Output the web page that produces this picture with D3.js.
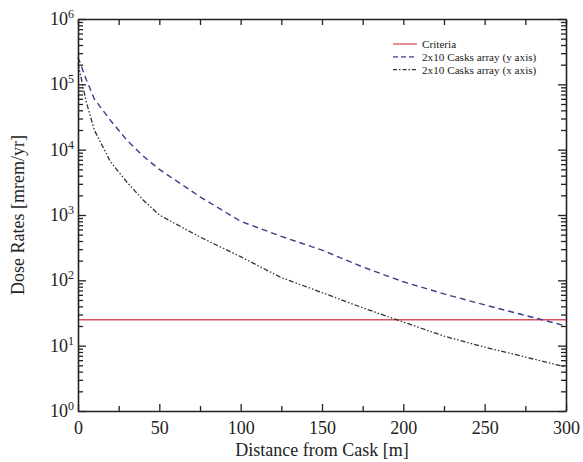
<!DOCTYPE html>
<html>
<head>
<meta charset="utf-8">
<script src="https://cdn.jsdelivr.net/npm/d3@7"></script>
<style>
  body { margin: 0; background: #fff; }
  svg text { font-family: "Liberation Serif", "Times New Roman", serif; fill: #222; }
</style>
</head>
<body>
<div class="viz"></div>
<script>
// distances [m] and dose rates
const distances = [0, 5, 10, 20, 30, 40, 50, 75, 100, 125, 150, 175, 200, 225, 250, 275, 300];
const yAxisArray = [260000, 120000, 60000, 28000, 14000, 8000, 5000, 1900, 800, 470, 290, 160, 95, 62, 42, 29, 20];
const xAxisArray = [210000, 55000, 20000, 6500, 3200, 1700, 1000, 460, 230, 110, 65, 38, 23, 14, 9.5, 6.7, 4.7];
const criteria = 25;
const xTicks = [0, 50, 100, 150, 200, 250, 300];
const yDecades = [0, 1, 2, 3, 4, 5, 6];
const legendLabels = ["Criteria", "2x10 Casks array (y axis)", "2x10 Casks array (x axis)"];

const width = 583, height = 462;
const margin = { top: 19, right: 17, bottom: 51, left: 78 };

const svg = d3.select(".viz").append("svg")
  .attr("width", width)
  .attr("height", height);

const x = d3.scaleLinear().domain([0, 300]).range([margin.left, width - margin.right]);
const y = d3.scaleLog().domain([1, 1e6]).range([height - margin.bottom, margin.top]);

const plot = svg.append("g");

// minor tick values for log axis
const minorY = [];
for (let e = 0; e < 6; e++) {
  for (let k = 2; k <= 9; k++) minorY.push(k * Math.pow(10, e));
}
const minorX = d3.range(25, 300, 50);

function styleAxis(g) {
  g.select(".domain").attr("stroke", "#222").attr("stroke-width", 1.6);
  g.selectAll(".tick line").attr("stroke", "#222").attr("stroke-width", 1.3);
}

// bottom axis
svg.append("g")
  .attr("transform", `translate(0,${height - margin.bottom})`)
  .call(d3.axisBottom(x).tickValues(xTicks).tickSizeInner(-7).tickSizeOuter(0).tickPadding(10))
  .call(styleAxis)
  .call(g => g.selectAll("text").attr("font-size", 18).attr("fill", "#222"));
svg.append("g")
  .attr("transform", `translate(0,${height - margin.bottom})`)
  .call(d3.axisBottom(x).tickValues(minorX).tickSize(-5).tickFormat(""))
  .call(styleAxis)
  .call(g => g.select(".domain").remove());

// top axis
svg.append("g")
  .attr("transform", `translate(0,${margin.top})`)
  .call(d3.axisTop(x).tickValues(d3.range(0, 301, 25)).tickSize(-6).tickSizeOuter(0).tickFormat(""))
  .call(styleAxis);

// left axis
svg.append("g")
  .attr("transform", `translate(${margin.left},0)`)
  .call(d3.axisLeft(y).tickValues(yDecades.map(d => Math.pow(10, d))).tickSizeInner(-8).tickSizeOuter(0).tickFormat(""))
  .call(styleAxis);
svg.append("g")
  .attr("transform", `translate(${margin.left},0)`)
  .call(d3.axisLeft(y).tickValues(minorY).tickSize(-5).tickFormat(""))
  .call(styleAxis)
  .call(g => g.select(".domain").remove());

// right axis
svg.append("g")
  .attr("transform", `translate(${width - margin.right},0)`)
  .call(d3.axisRight(y).tickValues(yDecades.map(d => Math.pow(10, d))).tickSizeInner(-8).tickSizeOuter(0).tickFormat(""))
  .call(styleAxis);
svg.append("g")
  .attr("transform", `translate(${width - margin.right},0)`)
  .call(d3.axisRight(y).tickValues(minorY).tickSize(-5).tickFormat(""))
  .call(styleAxis)
  .call(g => g.select(".domain").remove());

// y tick labels 10^n
const yLabels = svg.append("g").selectAll("text")
  .data(yDecades)
  .join("text")
  .attr("x", margin.left - 4)
  .attr("y", d => y(Math.pow(10, d)) + 6)
  .attr("text-anchor", "end")
  .attr("font-size", 18);
yLabels.append("tspan").text("10");
yLabels.append("tspan").attr("dy", -7).attr("font-size", 12).text(d => d);

// criteria line
plot.append("line")
  .attr("x1", x(0)).attr("x2", x(300))
  .attr("y1", y(criteria)).attr("y2", y(criteria))
  .attr("stroke", "#d9535b").attr("stroke-width", 1.5);

const line = d3.line().x((d, i) => x(distances[i])).y(d => y(d));

plot.append("path")
  .datum(yAxisArray)
  .attr("d", line)
  .attr("fill", "none")
  .attr("stroke", "#3d3d8c")
  .attr("stroke-width", 1.4)
  .attr("stroke-dasharray", "6,4");

plot.append("path")
  .datum(xAxisArray)
  .attr("d", line)
  .attr("fill", "none")
  .attr("stroke", "#333")
  .attr("stroke-width", 1.3)
  .attr("stroke-dasharray", "5,2,1.5,2,1.5,2");

// axis titles
svg.append("text")
  .attr("x", x(150))
  .attr("y", 456)
  .attr("text-anchor", "middle")
  .attr("font-size", 18)
  .text("Distance from Cask [m]");

svg.append("text")
  .attr("transform", `translate(24,${(margin.top + height - margin.bottom) / 2}) rotate(-90)`)
  .attr("text-anchor", "middle")
  .attr("font-size", 18)
  .text("Dose Rates [mrem/yr]");

// legend
const legendStyles = [
  { stroke: "#d9535b", dash: null },
  { stroke: "#3d3d8c", dash: "5,3" },
  { stroke: "#333", dash: "4,2,1.5,2" }
];
const legend = svg.append("g").selectAll("g")
  .data(legendLabels)
  .join("g")
  .attr("transform", (d, i) => `translate(393,${44 + i * 12.8})`);
legend.append("line")
  .attr("x1", 0).attr("x2", 24)
  .attr("stroke", (d, i) => legendStyles[i].stroke)
  .attr("stroke-width", 1.3)
  .attr("stroke-dasharray", (d, i) => legendStyles[i].dash);
legend.append("text")
  .attr("x", 29)
  .attr("y", 4)
  .attr("font-size", 11.2)
  .attr("fill", "#111")
  .text(d => d);
</script>
</body>
</html>
